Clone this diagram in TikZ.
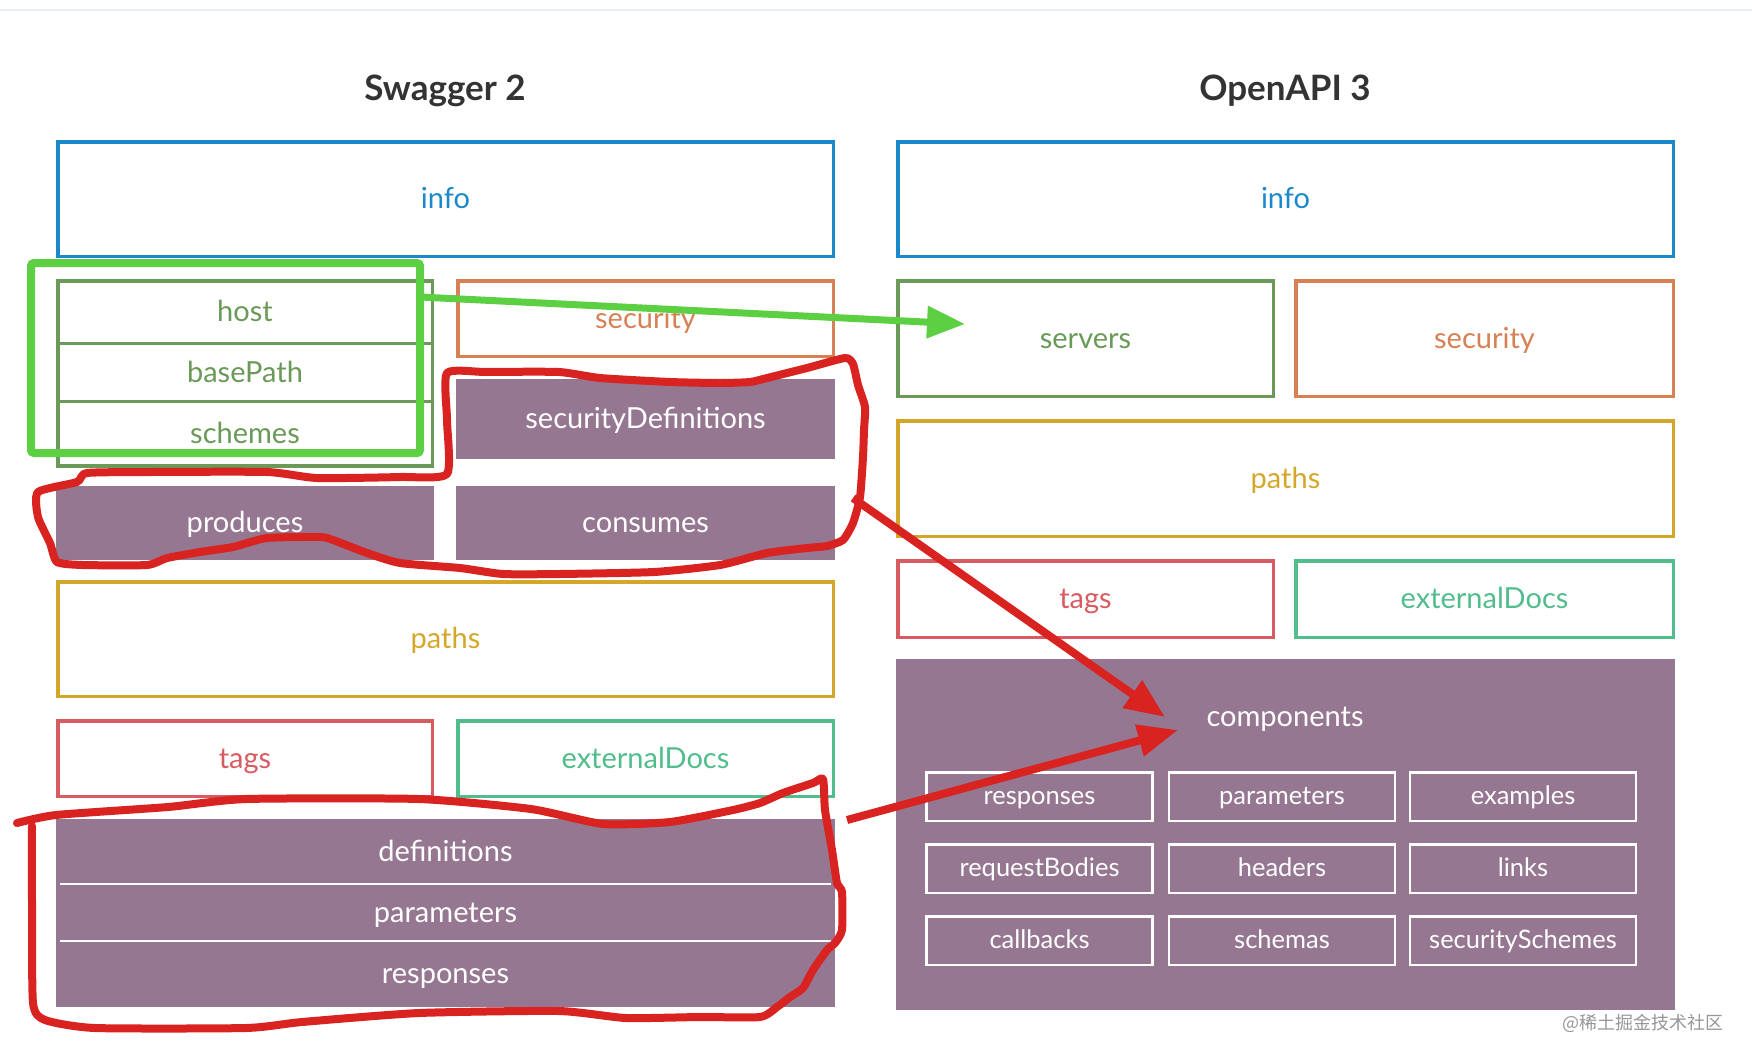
\documentclass[tikz,border=0pt]{standalone}
\usepackage{fontspec}
\setmainfont{Lato}
\newfontfamily\cjkfont{Noto Sans CJK SC}
\usepackage{tikz}
\usetikzlibrary{arrows.meta,calc,positioning}
\definecolor{infoblue}{RGB}{26,136,201}
\definecolor{srvgreen}{RGB}{106,153,88}
\definecolor{secorange}{RGB}{215,128,83}
\definecolor{pathgold}{RGB}{212,166,42}
\definecolor{tagred}{RGB}{216,91,97}
\definecolor{docgreen}{RGB}{82,189,140}
\definecolor{purp}{RGB}{150,119,146}
\definecolor{handred}{RGB}{217,35,32}
\definecolor{handgreen}{RGB}{92,207,66}
\definecolor{ttl}{RGB}{51,51,51}
\definecolor{rule}{RGB}{230,238,246}
\definecolor{wmgray}{RGB}{150,150,150}

\begin{document}
\begin{tikzpicture}[x=1pt,y=-1pt,
  lbl/.style={text height=19pt,text depth=0pt},
  part/.style={draw=#1,text=#1,line width=3.5pt,inner sep=0pt,outer sep=0pt,font=\fontsize{29}{34}\selectfont,lbl},
  pbox/.style={fill=purp,text=white,inner sep=0pt,outer sep=0pt,font=\fontsize{29}{34}\selectfont,lbl},
  cbox/.style={draw=white,text=white,line width=2.5pt,minimum width=226pt,minimum height=48.5pt,inner sep=0pt,font=\fontsize{25.5}{30}\selectfont,text height=16pt,text depth=0pt},
  coltitle/.style={font=\fontsize{35}{40}\selectfont\bfseries,text=ttl},
  hand/.style={draw=handred,line width=8pt,line cap=round,line join=round}]
  \useasboundingbox (0,0) rectangle (1752,1060);
  \draw[rule,line width=2pt] (0,10) -- (1752,10);
  \node[coltitle] (swg) at (445,91) {Swagger 2};
  \node[coltitle] (oas) at (1285,91) {OpenAPI 3};
  % Swagger 2 column
  \node[part=infoblue,minimum width=775.5pt,minimum height=114.5pt] (infoL) at (445.5,199) {info};
  \node[part=srvgreen,minimum width=374.5pt,minimum height=62.9pt] (host) at (245,312.2) {host};
  \node[part=srvgreen,minimum width=374.5pt,minimum height=57.8pt,below=0pt of host] (base) {basePath};
  \node[part=srvgreen,minimum width=374.5pt,minimum height=64.6pt,below=0pt of base] (schemes) {schemes};
  \node[part=secorange,minimum width=375.5pt,minimum height=75.5pt] (secL) at (645.5,318.5) {security};
  \node[pbox,minimum width=379pt,minimum height=80pt] (secdefs) at (645.5,419) {securityDefinitions};
  \node[pbox,minimum width=378pt,minimum height=74pt] (produces) at (245,523) {produces};
  \node[pbox,minimum width=379pt,minimum height=74pt] (consumes) at (645.5,523) {consumes};
  \node[part=pathgold,minimum width=775.5pt,minimum height=114.5pt] (pathsL) at (445.5,639) {paths};
  \node[part=tagred,minimum width=374.5pt,minimum height=75.5pt] (tagsL) at (245,758.5) {tags};
  \node[part=docgreen,minimum width=375.5pt,minimum height=75.5pt] (docsL) at (645.5,758.5) {externalDocs};
  \node[pbox,minimum width=779pt,minimum height=65pt] (defs) at (445.5,851.5) {definitions};
  \node[pbox,minimum width=779pt,minimum height=57pt,below=0pt of defs] (params) {parameters};
  \node[pbox,minimum width=779pt,minimum height=66pt,below=0pt of params] (resps) {responses};
  \foreach \a in {defs,params} \draw[white,line width=2pt] ([xshift=4pt]\a.south west) -- ([xshift=-4pt]\a.south east);
  % OpenAPI 3 column
  \node[part=infoblue,minimum width=775.5pt,minimum height=114.5pt] (infoR) at (1285.5,199) {info};
  \node[part=srvgreen,minimum width=375.5pt,minimum height=115.5pt] (servers) at (1085.5,338.5) {servers};
  \node[part=secorange,minimum width=377.5pt,minimum height=115.5pt] (secR) at (1484.5,338.5) {security};
  \node[part=pathgold,minimum width=775.5pt,minimum height=115.5pt] (pathsR) at (1285.5,478.5) {paths};
  \node[part=tagred,minimum width=375.5pt,minimum height=76.5pt] (tagsR) at (1085.5,599) {tags};
  \node[part=docgreen,minimum width=377.5pt,minimum height=76.5pt] (docsR) at (1484.5,599) {externalDocs};
  \node[pbox,minimum width=779pt,minimum height=351pt] (comps) at (1285.5,834.5) {};
  \node[text=white,font=\fontsize{29}{34}\selectfont,lbl] (complbl) at (1285,717) {components};
  \foreach \n/\t/\cx/\cy in {cresp/responses/1039.5/796.5,cparam/parameters/1282/796.5,cexam/examples/1523/796.5,
    creq/requestBodies/1039.5/868.5,chead/headers/1282/868.5,clink/links/1523/868.5,
    ccall/callbacks/1039.5/940.5,cschema/schemas/1282/940.5,csecs/securitySchemes/1523/940.5}
    \node[cbox] (\n) at (\cx,\cy) {\t};
  \node[text=wmgray,font=\cjkfont\fontsize{18}{21}\selectfont] (wm) at (1643,1023) {@稀土掘金技术社区};
  % hand marks
  \node[draw=handgreen,line width=8pt,rounded corners=3pt,minimum width=389pt,minimum height=190pt] (srvmark) at (225.5,358) {};
  \coordinate (gstart) at (420,297);
  \coordinate (gtip) at (965,324);
  \draw[handgreen,line width=7pt,-{Triangle[length=38pt,width=31pt]}] (gstart) -- (gtip);
  \draw[hand] plot[smooth cycle,tension=0.35] coordinates {(447,474) (447,420) (447,373) (486,372) (559,372) (600,378) (670,382) (720,383) (750,382) (767,378) (807,368) (845,358) (853,364) (858,385) (865,407) (864,430) (863,457) (860,497) (853,523) (843,540) (827,546) (807,548) (767,553) (720,565) (654,572) (559,574) (503,574) (460,568) (400,563) (367,553) (333,540) (320,537) (267,538) (233,547) (200,552) (167,558) (147,565) (83,565) (57,562) (50,543) (38,517) (38,492) (77,482) (87,473) (150,472) (267,472) (317,478) (400,477)};
  \draw[hand] plot[smooth,tension=0.35] coordinates {(17,823) (56,815) (168,807) (246,799) (419,799) (531,809) (603,824) (670,822) (733,810) (760,803) (783,793) (813,783) (823,779) (825,810) (832,850) (837,883) (842,892) (842,930) (835,943) (827,950) (813,970) (803,988) (790,997) (777,1007) (760,1017) (700,1017) (626,1018) (559,1011) (419,1013) (302,1022) (246,1028) (95,1028) (45,1020) (33,1003) (32,900) (32,826)};
  \coordinate (secout) at (853,498);
  \coordinate (defsout) at (847,820);
  \coordinate (tipA) at (1165,717);
  \coordinate (tipB) at (1178,730);
  \draw[handred,line width=8pt,-{Triangle[length=40pt,width=32pt]}] (secout) -- (tipA);
  \draw[handred,line width=8pt,-{Triangle[length=40pt,width=31pt]}] (defsout) -- (tipB);
\end{tikzpicture}
\end{document}
